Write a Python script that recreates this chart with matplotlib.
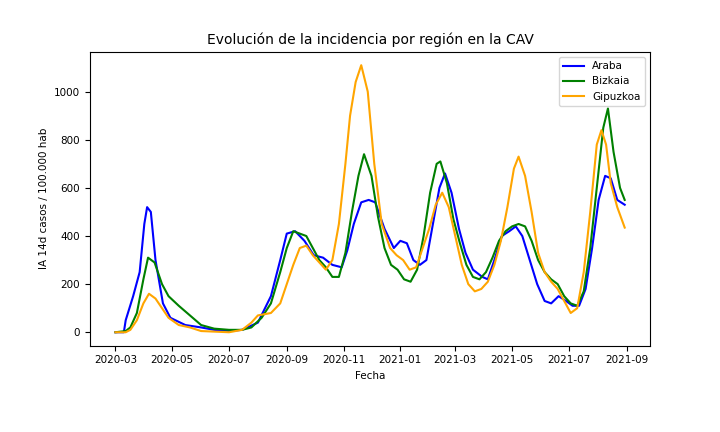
import matplotlib
matplotlib.use("Agg")
import matplotlib.pyplot as plt
import pandas as pd
import matplotlib.dates as mdates

araba_dates = ["2020-03-01","2020-03-10","2020-03-12","2020-03-20","2020-03-27","2020-04-01","2020-04-04","2020-04-08","2020-04-13","2020-04-21","2020-04-29","2020-05-15","2020-06-01","2020-06-15","2020-07-01","2020-07-15","2020-08-01","2020-08-15","2020-08-25","2020-09-01","2020-09-10","2020-09-20","2020-09-30","2020-10-10","2020-10-20","2020-10-30","2020-11-05","2020-11-12","2020-11-20","2020-11-28","2020-12-05","2020-12-15","2020-12-25","2021-01-01","2021-01-08","2021-01-15","2021-01-22","2021-01-29","2021-02-05","2021-02-12","2021-02-18","2021-02-25","2021-03-05","2021-03-12","2021-03-20","2021-03-30","2021-04-05","2021-04-12","2021-04-20","2021-04-28","2021-05-05","2021-05-12","2021-05-20","2021-05-28","2021-06-05","2021-06-12","2021-06-20","2021-06-28","2021-07-05","2021-07-12","2021-07-19","2021-07-26","2021-08-02","2021-08-09","2021-08-15","2021-08-22","2021-08-30"]
araba_vals = [0,0,50,150,250,450,520,500,300,120,60,30,20,10,5,10,40,150,300,410,420,380,320,310,280,270,340,450,540,550,540,430,350,380,370,300,280,300,450,600,660,580,430,330,260,230,220,300,400,420,440,400,300,200,130,120,150,130,110,110,180,350,550,650,640,550,530]

bizkaia_dates = ["2020-03-01","2020-03-12","2020-03-17","2020-03-24","2020-03-31","2020-04-05","2020-04-12","2020-04-20","2020-04-27","2020-05-08","2020-05-20","2020-06-01","2020-06-15","2020-07-01","2020-07-15","2020-07-25","2020-08-05","2020-08-15","2020-08-25","2020-09-01","2020-09-08","2020-09-15","2020-09-22","2020-09-29","2020-10-06","2020-10-13","2020-10-20","2020-10-27","2020-11-03","2020-11-10","2020-11-17","2020-11-23","2020-12-01","2020-12-08","2020-12-15","2020-12-22","2020-12-29","2021-01-05","2021-01-12","2021-01-19","2021-01-26","2021-02-02","2021-02-09","2021-02-13","2021-02-20","2021-02-27","2021-03-06","2021-03-13","2021-03-20","2021-03-27","2021-04-03","2021-04-10","2021-04-17","2021-04-24","2021-05-01","2021-05-08","2021-05-15","2021-05-22","2021-05-29","2021-06-05","2021-06-12","2021-06-19","2021-06-26","2021-07-03","2021-07-10","2021-07-17","2021-07-24","2021-07-31","2021-08-07","2021-08-12","2021-08-18","2021-08-25","2021-08-30"]
bizkaia_vals = [0,5,20,80,220,310,290,200,150,110,70,30,15,10,10,20,60,120,250,350,420,410,400,350,300,270,230,230,330,500,650,740,650,480,350,280,260,220,210,260,400,580,700,710,620,470,370,280,230,220,250,310,380,420,440,450,440,380,300,250,220,200,150,120,110,170,350,600,850,930,750,600,550]

gipuzkoa_dates = ["2020-03-01","2020-03-12","2020-03-17","2020-03-24","2020-03-31","2020-04-06","2020-04-13","2020-04-20","2020-04-27","2020-05-08","2020-05-20","2020-06-01","2020-07-01","2020-07-15","2020-07-25","2020-08-01","2020-08-15","2020-08-25","2020-09-01","2020-09-08","2020-09-15","2020-09-22","2020-09-29","2020-10-06","2020-10-13","2020-10-20","2020-10-27","2020-11-03","2020-11-08","2020-11-14","2020-11-20","2020-11-27","2020-12-04","2020-12-12","2020-12-21","2020-12-28","2021-01-04","2021-01-11","2021-01-18","2021-01-25","2021-02-01","2021-02-08","2021-02-15","2021-02-22","2021-03-01","2021-03-08","2021-03-15","2021-03-22","2021-03-29","2021-04-05","2021-04-12","2021-04-19","2021-04-26","2021-05-03","2021-05-08","2021-05-15","2021-05-22","2021-05-29","2021-06-05","2021-06-12","2021-06-19","2021-06-26","2021-07-03","2021-07-10","2021-07-17","2021-07-24","2021-07-31","2021-08-05","2021-08-10","2021-08-15","2021-08-22","2021-08-30"]
gipuzkoa_vals = [0,0,10,50,120,160,140,100,60,30,20,5,0,10,40,70,80,120,200,280,350,360,320,290,260,300,450,700,900,1040,1110,1000,700,450,350,320,300,260,270,350,430,530,580,520,400,280,200,170,180,210,280,380,520,680,730,650,500,330,250,210,180,130,80,100,250,500,780,840,780,620,520,435]

series = [("Araba", araba_dates, araba_vals, "blue"),
          ("Bizkaia", bizkaia_dates, bizkaia_vals, "green"),
          ("Gipuzkoa", gipuzkoa_dates, gipuzkoa_vals, "orange")]

fig = plt.figure(figsize=(7.2, 4.32), dpi=100)
ax = fig.add_axes([0.125, 0.2, 0.778, 0.68])
for name, d, v, c in series:
    ax.plot(pd.to_datetime(d), v, color=c, label=name, lw=1.5)
ax.set_title("Evolución de la incidencia por región en la CAV", fontsize=10)
ax.set_xlabel("Fecha", fontsize=7.5)
ax.set_ylabel("IA 14d casos / 100.000 hab", fontsize=7.5)
ax.xaxis.set_major_locator(mdates.MonthLocator(bymonth=[1,3,5,7,9,11]))
ax.xaxis.set_major_formatter(mdates.DateFormatter("%Y-%m"))
ax.tick_params(labelsize=7.5)
ax.legend(fontsize=7.5, loc="upper right")
fig.savefig("out.png", dpi=100)
